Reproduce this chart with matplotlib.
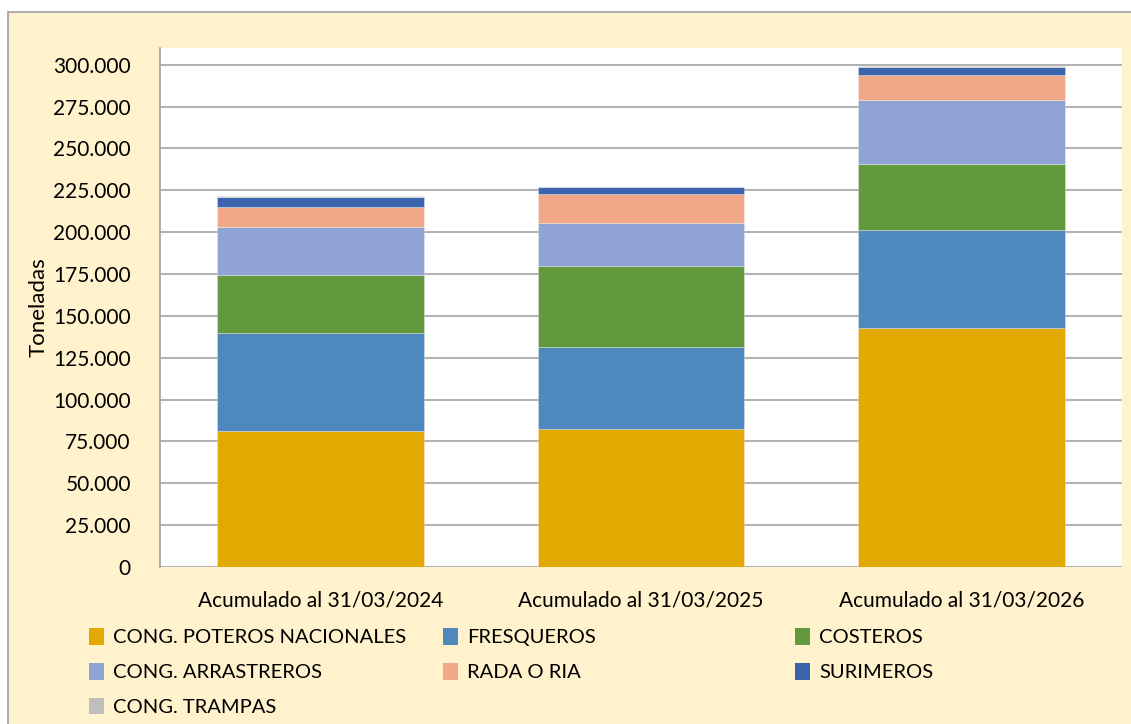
import matplotlib
matplotlib.use("Agg")
import matplotlib.pyplot as plt
from matplotlib.patches import Rectangle, Patch
from matplotlib.ticker import FuncFormatter, MultipleLocator
import numpy as np

plt.rcParams['font.family'] = ['Lato', 'DejaVu Sans']

categories = ["Acumulado al 31/03/2024", "Acumulado al 31/03/2025", "Acumulado al 31/03/2026"]
series_names = ["CONG. POTEROS NACIONALES", "FRESQUEROS", "COSTEROS",
                "CONG. ARRASTREROS", "RADA O RIA", "SURIMEROS", "CONG. TRAMPAS"]
poteros = [81300, 82500, 142800]
fresqueros = [58300, 48800, 58400]
costeros = [35100, 48400, 39500]
arrastreros = [28100, 25900, 38000]
rada = [12500, 17300, 15300]
surimeros = [6000, 4000, 4800]
trampas = [400, 300, 400]
colors = ["#E2A900", "#4E88BC", "#62983E", "#8FA3D4", "#F0A889", "#3B64AD", "#BFBFBF"]

series = [poteros, fresqueros, costeros, arrastreros, rada, surimeros, trampas]

fig = plt.figure(figsize=(11.31, 7.24), dpi=100)
W, H = 1131, 724
fig.patches.append(Rectangle((8 / W, -0.01), 1.02, 1 - 12 / H + 0.01, transform=fig.transFigure,
                             facecolor="#FFF2CC", edgecolor="#A0A0A0", linewidth=1.2, zorder=-10))

ax = fig.add_axes([160 / W, (H - 567) / H, (1122 - 160) / W, (567 - 48) / H])
ax.set_facecolor("white")
ax.set_zorder(1)

x = np.arange(len(categories))
bottom = np.zeros(len(categories))
for name, vals, c in zip(series_names, series, colors):
    ax.bar(x, vals, 0.645, bottom=bottom, color=c, label=name, zorder=3,
           edgecolor=(1, 1, 1, 0.35), linewidth=0.6)
    bottom += np.array(vals)

ax.set_xlim(-0.5, 2.5)
ax.set_ylim(0, 310000)
ax.yaxis.set_major_locator(MultipleLocator(25000))
ax.yaxis.set_major_formatter(FuncFormatter(lambda v, p: f"{int(v):,}".replace(",", ".")))
ax.grid(axis="y", color="#B3B3B3", linewidth=1.5, zorder=0)
ax.set_axisbelow(True)
for s in ["top", "right", "bottom"]:
    ax.spines[s].set_visible(False)
ax.spines["left"].set_color("#A0A0A0")
ax.spines["left"].set_linewidth(1.2)
ax.set_xticks(x)
ax.set_xticklabels(categories, fontsize=15)
ax.tick_params(axis="y", length=0, labelsize=15, colors="black", pad=21)
ax.tick_params(axis="x", length=0, labelsize=15, colors="black", pad=17)
ax.set_ylabel("Toneladas", fontsize=16, labelpad=3)

handles = [Patch(facecolor=c) for c in colors]
cols = [([0, 3, 6], 89), ([1, 4], 443), ([2, 5], 795)]
for idxs, xpx in cols:
    leg = fig.legend([handles[i] for i in idxs], [series_names[i] for i in idxs],
                     loc="upper left", bbox_to_anchor=(xpx / W, (H - 628) / H),
                     frameon=False, fontsize=14.5, handlelength=0.75, handleheight=0.9,
                     handletextpad=0.45, labelspacing=0.82, borderaxespad=0, borderpad=0)

fig.savefig("out.png", dpi=100, facecolor="white")
